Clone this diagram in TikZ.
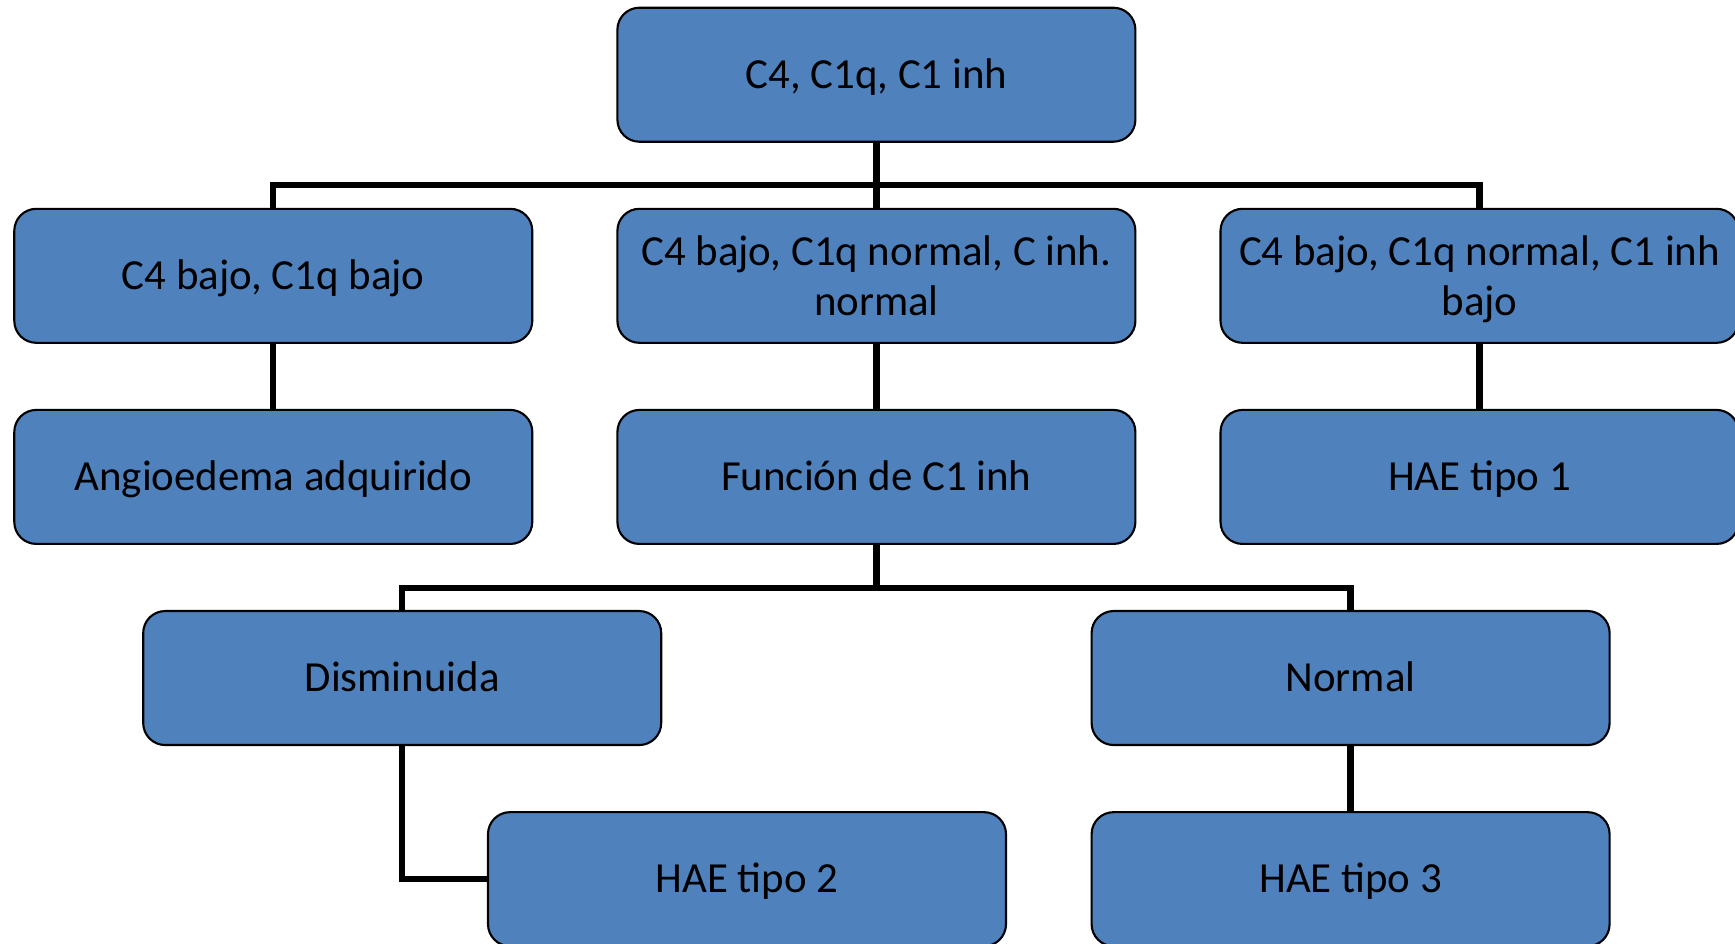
\documentclass[tikz,border=0pt]{standalone}
\usepackage{fontspec}
\setmainfont{Carlito}
\usepackage{tikz}
\usetikzlibrary{positioning}

\definecolor{boxblue}{RGB}{79,129,189}

\begin{document}
\begin{tikzpicture}[
    node distance=0.65cm and 0.83cm,
    box/.style={rectangle, draw=black, line width=0.6pt, rounded corners=0.22cm, fill=boxblue, minimum width=5.18cm, minimum height=1.34cm, align=center, font=\fontsize{12.2}{14.2}\selectfont},
    single/.style={box, text height=1em, text depth=0.22em},
    double/.style={box, text depth=0pt},
    link/.style={line width=1.8pt}
]

\useasboundingbox (0,0) rectangle (17.35,-9.43);
\clip (0,0) rectangle (17.35,-9.43);

% Top level
\node[single] (inicio) at (8.764,-0.747) {C4, C1q, C1 inh};

% Second row
\node[double, below=of inicio] (medio) {C4 bajo, C1q normal, C inh.\\normal};
\node[single, left=of medio] (izq) {C4 bajo, C1q bajo};
\node[double, right=of medio] (der) {C4 bajo, C1q normal, C1 inh\\bajo};

% Third row
\node[single, below=of izq] (adquirido) {Angioedema adquirido};
\node[single, below=of medio] (funcion) {Función de C1 inh};
\node[single, below=of der] (tipouno) {HAE tipo 1};

% Fourth row
\node[single, below=of funcion, xshift=-4.742cm] (disminuida) {Disminuida};
\node[single, below=of funcion, xshift=4.742cm] (normal) {Normal};

% Fifth row
\node[single, below=of disminuida, xshift=3.448cm] (tipodos) {HAE tipo 2};
\node[single, below=of normal] (tipotres) {HAE tipo 3};

% Links
\draw[link] (inicio.south) -- (medio.north);
\draw[link] (inicio.south) -- ++(0,-0.42) -| (izq.north);
\draw[link] (inicio.south) -- ++(0,-0.42) -| (der.north);

\draw[link] (izq) -- (adquirido);
\draw[link] (medio) -- (funcion);
\draw[link] (der) -- (tipouno);

\draw[link] (funcion.south) -- ++(0,-0.43) -| (disminuida.north);
\draw[link] (funcion.south) -- ++(0,-0.43) -| (normal.north);

\draw[link] (disminuida.south) |- (tipodos.west);
\draw[link] (normal) -- (tipotres);

\end{tikzpicture}
\end{document}
